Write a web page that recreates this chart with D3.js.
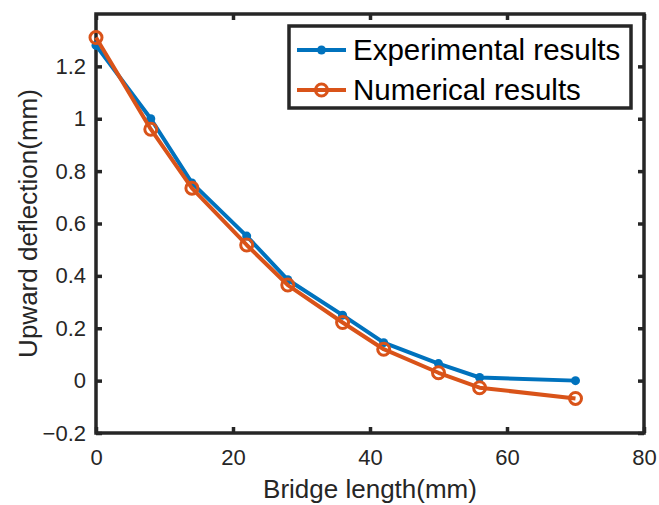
<!DOCTYPE html>
<html>
<head>
<meta charset="utf-8">
<script src="https://cdn.jsdelivr.net/npm/d3@7"></script>
<style>
  html, body { margin: 0; padding: 0; background: #fff; }
  svg { display: block; font-family: "Liberation Sans", Arial, Helvetica, sans-serif; }
</style>
</head>
<body>
<svg id="chart" width="659" height="505"></svg>
<script>
// Bridge length positions (mm)
const bridgeLength = [0, 8, 14, 22, 28, 36, 42, 50, 56, 70];
// Upward deflection (mm) per series
const experimental = [1.28, 1.0, 0.755, 0.552, 0.385, 0.25, 0.145, 0.065, 0.012, 0.0];
const numerical    = [1.31, 0.96, 0.735, 0.518, 0.365, 0.222, 0.12, 0.03, -0.027, -0.068];
const seriesNames = ["Experimental results", "Numerical results"];
const xTicks = [0, 20, 40, 60, 80];
const yTicks = [-0.2, 0, 0.2, 0.4, 0.6, 0.8, 1, 1.2];

const svg = d3.select("#chart");
const m = { left: 96, right: 15, top: 14, bottom: 72 };
const W = 659, H = 505;
const x = d3.scaleLinear().domain([0, 80]).range([m.left, W - m.right]);
const y = d3.scaleLinear().domain([-0.2, 1.4]).range([H - m.bottom, m.top]);

const axisColor = "#262626";
const tickLen = 6;

// Axes with inward ticks
const gx = svg.append("g").attr("transform", `translate(0,${y(-0.2)})`)
  .call(d3.axisBottom(x).tickValues(xTicks).tickFormat(d3.format("d")).tickSize(-tickLen).tickPadding(16));
const gy = svg.append("g").attr("transform", `translate(${x(0)},0)`)
  .call(d3.axisLeft(y).tickValues(yTicks).tickFormat(d => d3.format("")(+d.toFixed(1))).tickSize(-tickLen).tickPadding(10));
const gxt = svg.append("g").attr("transform", `translate(0,${y(1.4)})`)
  .call(d3.axisTop(x).tickValues(xTicks).tickFormat("").tickSize(-tickLen));
const gyr = svg.append("g").attr("transform", `translate(${x(80)},0)`)
  .call(d3.axisRight(y).tickValues(yTicks).tickFormat("").tickSize(-tickLen));

[gx, gy, gxt, gyr].forEach(g => {
  g.select(".domain").remove();
  g.selectAll(".tick line").attr("stroke", axisColor).attr("stroke-width", 3.5);
  g.selectAll(".tick text").attr("fill", axisColor).style("font-size", "22px")
    .style("font-family", "'Liberation Sans', Arial, sans-serif");
});

// Box
svg.append("rect")
  .attr("x", x(0)).attr("y", y(1.4))
  .attr("width", x(80) - x(0)).attr("height", y(-0.2) - y(1.4))
  .attr("fill", "none").attr("stroke", axisColor).attr("stroke-width", 3.5);

// Axis titles
svg.append("text").attr("x", (x(0) + x(80)) / 2).attr("y", 498)
  .attr("text-anchor", "middle").attr("fill", axisColor).style("font-size", "26px")
  .text("Bridge length(mm)");
svg.append("text").attr("transform", `translate(37,${(y(-0.2) + y(1.4)) / 2}) rotate(-90)`)
  .attr("text-anchor", "middle").attr("fill", axisColor).style("font-size", "26px")
  .text("Upward deflection(mm)");

const colors = ["#0072BD", "#D95319"];
const line = d3.line().x(d => x(d[0])).y(d => y(d[1]));

const expPts = bridgeLength.map((v, i) => [v, experimental[i]]);
const numPts = bridgeLength.map((v, i) => [v, numerical[i]]);

// Experimental series: line with filled dots
svg.append("path").datum(expPts).attr("d", line)
  .attr("fill", "none").attr("stroke", colors[0]).attr("stroke-width", 4).attr("stroke-linejoin", "round");
svg.append("g").selectAll("circle").data(expPts).join("circle")
  .attr("cx", d => x(d[0])).attr("cy", d => y(d[1])).attr("r", 4.5).attr("fill", colors[0]);

// Numerical series: line with open circles
svg.append("path").datum(numPts).attr("d", line)
  .attr("fill", "none").attr("stroke", colors[1]).attr("stroke-width", 4).attr("stroke-linejoin", "round");
svg.append("g").selectAll("circle").data(numPts).join("circle")
  .attr("cx", d => x(d[0])).attr("cy", d => y(d[1])).attr("r", 6)
  .attr("fill", "none").attr("stroke", colors[1]).attr("stroke-width", 3);

// Legend
const lg = svg.append("g");
lg.append("rect").attr("x", 289).attr("y", 26).attr("width", 342).attr("height", 82)
  .attr("fill", "#fff").attr("stroke", axisColor).attr("stroke-width", 3.5);
seriesNames.forEach((name, i) => {
  const cy = 50 + i * 40;
  lg.append("line").attr("x1", 297).attr("x2", 346).attr("y1", cy).attr("y2", cy)
    .attr("stroke", colors[i]).attr("stroke-width", 4);
  if (i === 0) {
    lg.append("circle").attr("cx", 321.5).attr("cy", cy).attr("r", 4.5).attr("fill", colors[i]);
  } else {
    lg.append("circle").attr("cx", 321.5).attr("cy", cy).attr("r", 6)
      .attr("fill", "none").attr("stroke", colors[i]).attr("stroke-width", 3);
  }
  lg.append("text").attr("x", 353).attr("y", cy + 10).attr("fill", "#000")
    .style("font-size", "29.5px").text(name);
});
</script>
</body>
</html>
